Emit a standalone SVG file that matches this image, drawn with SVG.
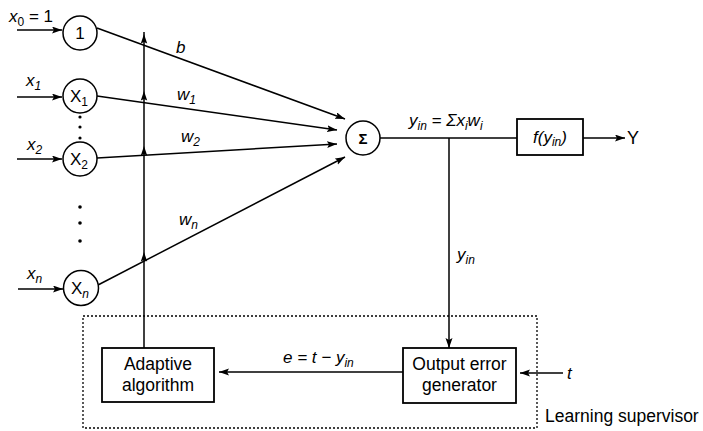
<svg xmlns="http://www.w3.org/2000/svg" width="703" height="431" viewBox="0 0 703 431">
<style>
  .ln{stroke:#000;stroke-width:1.5;fill:none}
  .arr{stroke:#000;stroke-width:1.5;fill:none;marker-end:url(#ah)}
  .nd{stroke:#000;stroke-width:1.5;fill:#fff}
  .bx{stroke:#000;stroke-width:1.8;fill:#fff}
  .t{font-family:"Liberation Sans",Arial,sans-serif;fill:#000}
  .i{font-style:italic}
  .nl{font-size:17px;text-anchor:middle}
  .lb{font-size:17px}
  .bt{font-size:17.5px;text-anchor:middle}
  .sub{font-size:12px}
  .dot{fill:#000}
</style>
<defs>
  <marker id="ah" markerUnits="userSpaceOnUse" markerWidth="11" markerHeight="8" refX="10" refY="3.5" orient="auto">
    <path d="M0,0 L10,3.5 L0,7 L2,3.5 z" fill="#000"/>
  </marker>
  <path id="up" d="M0,0 L3.2,9.5 L0,8 L-3.2,9.5 z" fill="#000"/>
</defs>
<rect x="0" y="0" width="703" height="431" fill="#fff"/>

<g id="connectors">
  <line class="arr" x1="17" y1="30" x2="62" y2="30"/>
  <line class="arr" x1="17" y1="97" x2="62" y2="97"/>
  <line class="arr" x1="17" y1="159" x2="62" y2="159"/>
  <line class="arr" x1="18" y1="289" x2="63" y2="289"/>
  <line class="arr" x1="97" y1="28" x2="345" y2="119"/>
  <line class="arr" x1="97" y1="96" x2="337" y2="130"/>
  <line class="arr" x1="97" y1="158" x2="337" y2="144"/>
  <line class="arr" x1="98" y1="285" x2="345" y2="157"/>
  <line class="ln" x1="144" y1="348" x2="144" y2="32"/>
  <use href="#up" x="144" y="34"/>
  <use href="#up" x="144" y="91"/>
  <use href="#up" x="144" y="146"/>
  <use href="#up" x="144" y="252"/>
  <line class="ln" x1="380" y1="138" x2="517" y2="138"/>
  <line class="arr" x1="583" y1="138" x2="625" y2="138"/>
  <line class="arr" x1="449" y1="138" x2="449" y2="348"/>
  <line class="arr" x1="403" y1="372" x2="219" y2="372"/>
  <line class="arr" x1="563" y1="373" x2="520" y2="373"/>
</g>

<g id="labels">
  <text class="t lb" x="9" y="22"><tspan class="i">x</tspan><tspan class="sub" dy="4">0</tspan><tspan dy="-4"> = 1</tspan></text>
  <text class="t lb i" x="26" y="86">x<tspan class="sub" dy="4">1</tspan></text>
  <text class="t lb i" x="27" y="150">x<tspan class="sub" dy="4">2</tspan></text>
  <text class="t lb i" x="27" y="279">x<tspan class="sub" dy="4">n</tspan></text>
  <text class="t lb i" x="176" y="53">b</text>
  <text class="t lb i" x="177" y="100">w<tspan class="sub" dy="4">1</tspan></text>
  <text class="t lb i" x="181" y="142">w<tspan class="sub" dy="4">2</tspan></text>
  <text class="t lb i" x="179" y="225">w<tspan class="sub" dy="4">n</tspan></text>
  <text class="t lb i" x="409" y="126">y<tspan class="sub" dy="4">in</tspan><tspan dy="-4"> = Σx</tspan><tspan class="sub" dy="4">i</tspan><tspan dy="-4">w</tspan><tspan class="sub" dy="4">i</tspan></text>
  <text class="t lb i" x="457" y="260">y<tspan class="sub" dy="4">in</tspan></text>
  <text class="t lb i" x="283" y="363">e = t − y<tspan class="sub" dy="4">in</tspan></text>
  <text class="t lb i" x="567" y="379">t</text>
  <text class="t" x="627" y="144" font-size="18">Y</text>
</g>

<g id="node-1">
  <circle class="nd" cx="80" cy="33" r="17"/>
  <text class="t nl" x="80" y="39">1</text>
</g>
<g id="node-x1">
  <circle class="nd" cx="80" cy="96" r="17"/>
  <text class="t nl" x="79" y="102">X<tspan class="sub" dy="4">1</tspan></text>
</g>
<g id="node-x2">
  <circle class="nd" cx="80" cy="159" r="17"/>
  <text class="t nl" x="79" y="165">X<tspan class="sub" dy="4">2</tspan></text>
</g>
<g id="node-xn">
  <circle class="nd" cx="81" cy="288" r="17.5"/>
  <text class="t nl" x="80" y="294">X<tspan class="sub i" dy="4">n</tspan></text>
</g>
<g id="dots">
  <circle class="dot" cx="80" cy="117" r="1.6"/>
  <circle class="dot" cx="80" cy="127" r="1.6"/>
  <circle class="dot" cx="80" cy="138" r="1.6"/>
  <circle class="dot" cx="80" cy="207" r="1.8"/>
  <circle class="dot" cx="80" cy="223" r="1.8"/>
  <circle class="dot" cx="80" cy="241" r="1.8"/>
</g>
<g id="node-sum">
  <circle class="nd" cx="363" cy="138" r="17"/>
  <text class="t" x="363" y="143.5" font-size="15" font-weight="bold" text-anchor="middle">Σ</text>
</g>
<g id="node-f">
  <rect class="bx" x="517" y="119" width="66" height="36"/>
  <text class="t lb i" x="550" y="143" text-anchor="middle">f(y<tspan class="sub" dy="3">in</tspan><tspan dy="-3">)</tspan></text>
</g>
<g id="learning-supervisor">
  <rect x="83" y="316" width="454" height="112" fill="none" stroke="#000" stroke-width="1.3" stroke-dasharray="2,2"/>
  <text class="t" x="545" y="422" font-size="17.5">Learning supervisor</text>
</g>
<g id="node-adaptive">
  <rect class="bx" x="102" y="348" width="112" height="54"/>
  <text class="t bt" x="158" y="370">Adaptive</text>
  <text class="t bt" x="158" y="391">algorithm</text>
</g>
<g id="node-output-error">
  <rect class="bx" x="403" y="348" width="113" height="55"/>
  <text class="t bt" x="459.5" y="370">Output error</text>
  <text class="t bt" x="459.5" y="391">generator</text>
</g>
</svg>
